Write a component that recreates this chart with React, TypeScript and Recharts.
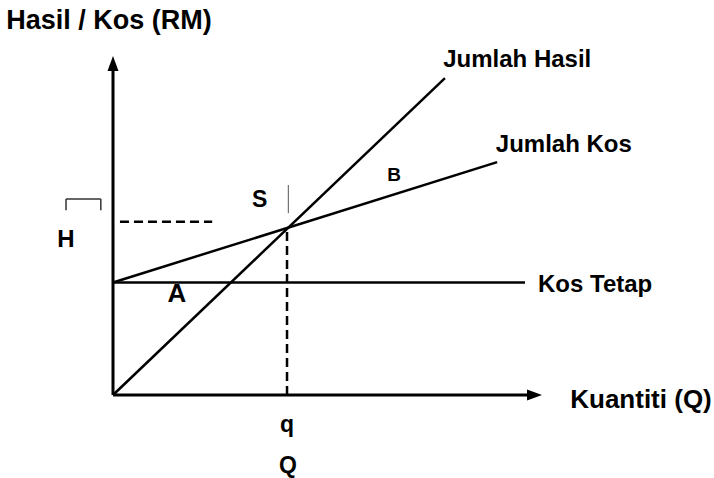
import { ComposedChart, Line, Scatter, XAxis, YAxis, ReferenceLine, ReferenceDot } from 'recharts';

// break-even diagram: quantity (Q) against revenue / cost (RM), arbitrary units
const hasilQ = [0, 76.3];
const hasilV = [0, 84.5];
const kosQ = [0, 88.3];
const kosV = [30, 62.1];
const tetapQ = [0, 94.7];
const tetapV = [30, 30];
const breakEvenQ = 40;
const breakEvenV = 44.5;

const toRows = (qs: number[], vs: number[]) => qs.map((q, i) => ({ q, v: vs[i] }));

const hasilData = toRows(hasilQ, hasilV);
const kosData = toRows(kosQ, kosV);
const tetapData = toRows(tetapQ, tetapV);

const X_MAX = 97;
const Y_MAX = 88;

const FONT = '"Liberation Sans", Arial, Helvetica, sans-serif';

// text notes, anchored in chart units
const notes = [
  { text: 'Hasil / Kos (RM)', q: -0.9, v: 97.6, anchor: 'middle', size: 27 },
  { text: 'Jumlah Hasil', q: 75.9, v: 87.5, anchor: 'start', size: 24 },
  { text: 'Jumlah Kos', q: 88.0, v: 64.8, anchor: 'start', size: 24 },
  { text: 'B', q: 64.6, v: 57.1, anchor: 'middle', size: 19 },
  { text: 'S', q: 33.7, v: 50.1, anchor: 'middle', size: 23 },
  { text: 'H', q: -10.8, v: 39.5, anchor: 'middle', size: 24 },
  { text: 'A', q: 14.7, v: 24.8, anchor: 'middle', size: 26 },
  { text: 'Kos Tetap', q: 97.7, v: 27.6, anchor: 'start', size: 24 },
  { text: 'Kuantiti (Q)', q: 105.1, v: -3.5, anchor: 'start', size: 26 },
  { text: 'q', q: 40.0, v: -9.9, anchor: 'middle', size: 23 },
  { text: 'Q', q: 40.2, v: -20.8, anchor: 'middle', size: 23 },
];

const arrowRight = (p: any) => (
  <polygon points={`${p.cx - 8},${p.cy - 5.5} ${p.cx + 7},${p.cy} ${p.cx - 8},${p.cy + 5.5}`} fill="#000" />
);
const arrowUp = (p: any) => (
  <polygon points={`${p.cx - 5.5},${p.cy + 6} ${p.cx},${p.cy - 9} ${p.cx + 5.5},${p.cy + 6}`} fill="#000" />
);

export default function App() {
  return (
    <div style={{ position: 'absolute', left: 0, top: 0, width: 714, height: 478, background: '#fff' }}>
      <ComposedChart width={714} height={478} margin={{ top: 65, right: 179, bottom: 83, left: 113 }}>
        <XAxis type="number" dataKey="q" domain={[0, X_MAX]} hide />
        <YAxis type="number" dataKey="v" domain={[0, Y_MAX]} hide />

        {/* axes */}
        <ReferenceLine segment={[{ x: 0, y: 0 }, { x: X_MAX, y: 0 }]} stroke="#000" strokeWidth={3} ifOverflow="visible" />
        <ReferenceLine segment={[{ x: 0, y: 0 }, { x: 0, y: Y_MAX }]} stroke="#000" strokeWidth={3} ifOverflow="visible" />

        <ReferenceLine
          segment={[{ x: breakEvenQ, y: 0 }, { x: breakEvenQ, y: breakEvenV }]}
          stroke="#000"
          strokeWidth={2.5}
          strokeDasharray="9 5"
          ifOverflow="visible"
        />
        <ReferenceLine
          segment={[{ x: 1.6, y: 46.2 }, { x: 22.8, y: 46.2 }]}
          stroke="#000"
          strokeWidth={2.5}
          strokeDasharray="9 5"
          ifOverflow="visible"
        />
        <ReferenceLine
          segment={[{ x: 40.3, y: 48.5 }, { x: 40.3, y: 56 }]}
          stroke="#555"
          strokeWidth={1}
          ifOverflow="visible"
        />
        {/* small bracket above H */}
        <ReferenceLine segment={[{ x: -10.8, y: 49.3 }, { x: -10.8, y: 52.3 }]} stroke="#333" strokeWidth={1.5} ifOverflow="visible" />
        <ReferenceLine segment={[{ x: -10.8, y: 52.3 }, { x: -2.8, y: 52.3 }]} stroke="#333" strokeWidth={1.5} ifOverflow="visible" />
        <ReferenceLine segment={[{ x: -2.8, y: 52.3 }, { x: -2.8, y: 49.3 }]} stroke="#333" strokeWidth={1.5} ifOverflow="visible" />

        <Line data={tetapData} dataKey="v" type="linear" stroke="#000" strokeWidth={2.5} dot={false} isAnimationActive={false} />
        <Line data={kosData} dataKey="v" type="linear" stroke="#000" strokeWidth={2.5} dot={false} isAnimationActive={false} />
        <Line data={hasilData} dataKey="v" type="linear" stroke="#000" strokeWidth={2.5} dot={false} isAnimationActive={false} />

        <Scatter data={[{ q: X_MAX, v: 0 }]} dataKey="v" shape={arrowRight} isAnimationActive={false} />
        <Scatter data={[{ q: 0, v: Y_MAX }]} dataKey="v" shape={arrowUp} isAnimationActive={false} />

        {notes.map((n) => (
          <ReferenceDot
            key={n.text}
            x={n.q}
            y={n.v}
            r={0}
            ifOverflow="visible"
            shape={(p: any) => (
              <text
                x={p.cx}
                y={p.cy}
                textAnchor={n.anchor}
                fontFamily={FONT}
                fontWeight="bold"
                fontSize={n.size}
                fill="#000"
              >
                {n.text}
              </text>
            )}
          />
        ))}
      </ComposedChart>
    </div>
  );
}
